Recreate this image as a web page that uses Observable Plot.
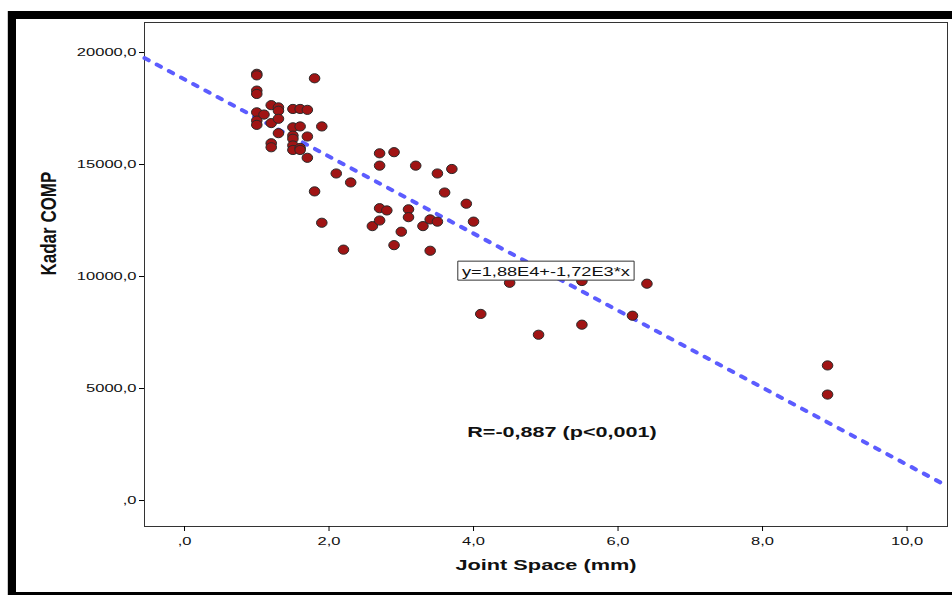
<!DOCTYPE html>
<html><head><meta charset="utf-8">
<script src="https://cdn.jsdelivr.net/npm/d3@7"></script>
<script src="https://cdn.jsdelivr.net/npm/@observablehq/plot@0.6"></script>
<style>
html,body{margin:0;padding:0;overflow:hidden;background:#fff;width:952px;height:595px}
#frame{position:absolute;left:8px;top:11px;width:1000px;height:585px;box-sizing:border-box;border-top:8px solid #000;border-left:8px solid #000;border-bottom:4px solid #000;}
#edge{position:absolute;left:7px;top:11px;width:1px;height:585px;background:#ccc}
#chart{position:absolute;left:0;top:0}
</style></head><body><div id="edge"></div><div id="frame"></div><div id="chart"></div>
<script>
const jointSpace = [
  1.0,1.0,1.0,1.0,1.0,1.0,1.0,
  1.1,
  1.2,1.2,1.2,1.2,
  1.3,1.3,1.3,1.3,
  1.5,1.5,1.5,1.5,1.5,1.5,
  1.6,1.6,1.6,1.6,
  1.7,1.7,1.7,
  1.8,1.8,
  1.9,1.9,
  2.1,2.2,2.3,2.6,
  2.7,2.7,2.7,2.7,
  2.8,2.9,2.9,3.0,3.1,3.1,3.2,3.3,3.4,3.4,3.5,3.5,3.6,3.7,3.9,4.0,
  4.1,4.5,4.9,5.5,5.5,6.2,6.4,8.9,8.9
];
const kadarComp = [
  19050,18980,18300,18150,17330,16960,16770,
  17230,
  17650,16850,15950,15770,
  17550,17400,17040,16400,
  17480,16660,16290,16150,15850,15650,
  17480,16700,15740,15650,
  17440,16250,15300,
  18850,13800,
  16700,12400,
  14600,11200,14200,12250,
  15500,14950,13050,12500,
  12950,15550,11400,12000,13000,12650,14950,12250,12550,11150,14600,12450,13750,14800,13250,12450,
  8330,9720,7400,9800,7850,8250,9680,6030,4730
];
const xTicks = [0, 2, 4, 6, 8, 10];
const yTicks = [0, 5000, 10000, 15000, 20000];
const fitIntercept = 18800;
const fitSlope = -1720;
const eqLabel = "y=1,88E4+-1,72E3*x";
const rLabel = "R=-0,887 (p<0,001)";
const xTitle = "Joint Space (mm)";
const yTitle = "Kadar COMP";
const xDomain = [-0.554, 10.56];
const yDomain = [-1160, 21340];

const fmt = d => d === 0 ? ",0" : d.toFixed(1).replace(".", ",");
const data = jointSpace.map((x, i) => ({x, y: kadarComp[i]}));
const fitLine = xDomain.map(x => ({x, y: fitIntercept + fitSlope * x}));

const chart = Plot.plot({
  width: 952, height: 595,
  marginLeft: 144, marginTop: 22, marginRight: 5, marginBottom: 69,
  style: {fontFamily: "Arial, 'Liberation Sans', sans-serif", background: "transparent", color: "#111"},
  x: {domain: xDomain},
  y: {domain: yDomain},
  marks: [
    Plot.frame({stroke: "#333"}),
    Plot.axisY(yTicks, {tickFormat: fmt, tickSize: 5, tickPadding: 3, fontSize: 11, label: null, stroke: "#000"}),
    Plot.axisX(xTicks, {tickFormat: fmt, tickSize: 5, tickPadding: 6, fontSize: 11, label: null, stroke: "#000"}),
    Plot.line(fitLine, {x: "x", y: "y", stroke: "#5c5cff", strokeWidth: 4, strokeDasharray: "4.8,9"}),
    Plot.dot(data, {x: "x", y: "y", r: 4.6, fill: "#a01414", stroke: "#2a2a2a", strokeWidth: 1}),
    Plot.text([eqLabel], {text: d => d, frameAnchor: "middle", dy: -3, fontSize: 13, fill: "#111"}),
    Plot.text([rLabel], {text: d => d, frameAnchor: "middle", dx: 16, dy: 158, fontSize: 15, fontWeight: "bold", fill: "#111"}),
    Plot.text([xTitle], {text: d => d, frameAnchor: "bottom", dy: 43, fontSize: 15, fontWeight: "bold", fill: "#111"}),
    Plot.text([yTitle], {text: d => d, frameAnchor: "left", dx: -96, dy: 1, rotate: -90, fontSize: 17, fontWeight: "bold", fill: "#111"})
  ]
});
document.getElementById("chart").appendChild(chart);

const svg = d3.select(chart);
function stretch(node, sx, sy) {
  const b = node.getBBox();
  const a = getComputedStyle(node).textAnchor;
  const ax = a === "end" ? b.x + b.width : a === "middle" ? b.x + b.width / 2 : b.x;
  const ay = b.y + b.height / 2;
  const tr = node.getAttribute("transform") || "";
  node.setAttribute("transform", `${tr} translate(${ax},${ay}) scale(${sx},${sy}) translate(${-ax},${-ay})`);
}
svg.selectAll("text").each(function() {
  const t = this.textContent;
  if (t === yTitle) stretch(this, 1, 1.3);
  else if (t === eqLabel) stretch(this, 1.4, 1);
  else if (t === rLabel) stretch(this, 1.44, 1);
  else if (t === xTitle) stretch(this, 1.45, 1);
  else stretch(this, 1.5, 1);
});
// equation box
svg.selectAll("text").filter(function() { return this.textContent === eqLabel; }).each(function() {
  const b = this.getBBox();
  const r = document.createElementNS("http://www.w3.org/2000/svg", "rect");
  r.setAttribute("x", b.x - 3);
  r.setAttribute("y", b.y - 3);
  r.setAttribute("width", b.width + 6);
  r.setAttribute("height", b.height + 5);
  r.setAttribute("fill", "#fff");
  r.setAttribute("stroke", "#333");
  r.setAttribute("stroke-width", 1);
  r.setAttribute("vector-effect", "non-scaling-stroke");
  if (this.getAttribute("transform")) r.setAttribute("transform", this.getAttribute("transform"));
  this.parentNode.insertBefore(r, this);
});
// slightly widen dots (reference is horizontally stretched)
svg.selectAll("circle").each(function() {
  const cx = +this.getAttribute("cx"), cy = +this.getAttribute("cy");
  const tr = this.getAttribute("transform") || "";
  this.setAttribute("transform", `${tr} translate(${cx},${cy}) scale(1.15,1) translate(${-cx},${-cy})`);
  this.setAttribute("vector-effect", "non-scaling-stroke");
});
</script>
</body></html>
